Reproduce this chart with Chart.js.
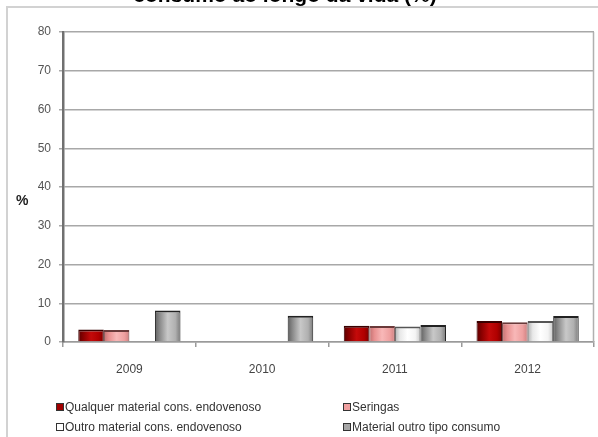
<!DOCTYPE html>
<html>
<head>
<meta charset="utf-8">
<script src="https://cdn.jsdelivr.net/npm/chart.js@4/dist/chart.umd.min.js"></script>
<style>
  html, body { margin: 0; padding: 0; background: #fff; overflow: hidden; }
  #wrap { position: relative; width: 598px; height: 437px; font-family: "Liberation Sans", Arial, sans-serif; }
  #frame { position: absolute; left: 6px; top: 6px; width: 640px; height: 480px; border-left: 2px solid #d2d2d2; border-top: 2px solid #d2d2d2; }
  #title { position: absolute; left: 0; width: 570px; top: -16px; text-align: center; font-size: 21px; line-height: 21px; font-weight: bold; color: #000; white-space: nowrap; }
  #ylab { position: absolute; left: 16px; top: 192px; font-size: 14px; font-weight: bold; color: #222; }
  canvas { position: absolute; left: 0; top: 0; }
  .leg { position: absolute; font-size: 12px; color: #333; white-space: nowrap; line-height: 14px; }
  .leg i { display: inline-block; width: 6px; height: 6px; border: 1px solid #333; margin-right: 1px; vertical-align: 0px; }
</style>
</head>
<body>
<div id="wrap">
  <div id="frame"></div>
  <canvas id="c" width="598" height="437"></canvas>
  <div id="title">consumo ao longo da vida (%)</div>
  <div id="ylab">%</div>
  <div id="legend"></div>
</div>
<script>
const categories = ["2009", "2010", "2011", "2012"];
const seriesNames = ["Qualquer material cons. endovenoso", "Seringas", "Outro material cons. endovenoso", "Material outro tipo consumo"];
const qualquerMaterial = [3.2, null, 4.2, 5.4];
const seringas = [3.1, null, 4.1, 5.1];
const outroMaterial = [null, null, 4.0, 5.4];
const materialOutroTipo = [8.1, 6.8, 4.4, 6.7];
const yTicks = [0, 10, 20, 30, 40, 50, 60, 70, 80];

const seriesValues = [qualquerMaterial, seringas, outroMaterial, materialOutroTipo];
const baseColors = ["#a00000", "#f0a0a0", "#ffffff", "#a6a6a6"];
const gradStops = [
  ["#5a0000", "#8a0000", "#c40a0a", "#b00000", "#7a0000"],
  ["#c07070", "#e89090", "#f8b8b8", "#eea0a0", "#d08080"],
  ["#b0b0b0", "#e8e8e8", "#ffffff", "#f4f4f4", "#c8c8c8"],
  ["#606060", "#8c8c8c", "#c8c8c8", "#b0b0b0", "#7a7a7a"]
];
const borderCols = ["#3a0000", "#6a3a3a", "#555555", "#222222"];

const gradientPlugin = {
  id: "grad",
  beforeDatasetsDraw(chart) {
    const ctx = chart.ctx;
    chart.data.datasets.forEach((ds, di) => {
      const meta = chart.getDatasetMeta(di);
      meta.data.forEach(el => {
        if (!isFinite(el.x) || !isFinite(el.width) || !el.options) return;
        const x0 = el.x - el.width / 2, x1 = el.x + el.width / 2;
        const g = ctx.createLinearGradient(x0, 0, x1, 0);
        const s = gradStops[di];
        g.addColorStop(0, s[0]);
        g.addColorStop(0.2, s[1]);
        g.addColorStop(0.5, s[2]);
        g.addColorStop(0.8, s[3]);
        g.addColorStop(1, s[4]);
        el.options.backgroundColor = g;
      });
    });
  },
  afterDraw(chart) {
    const a = chart.chartArea, ctx = chart.ctx;
    ctx.save();
    ctx.strokeStyle = "#b0b0b0";
    ctx.lineWidth = 1.5;
    ctx.beginPath();
    ctx.moveTo(Math.round(a.right) - 0.5, a.top);
    ctx.lineTo(Math.round(a.right) - 0.5, a.bottom);
    ctx.stroke();
    ctx.restore();
  }
};

const chart = new Chart(document.getElementById("c"), {
  type: "bar",
  data: {
    labels: categories,
    datasets: seriesNames.map((n, i) => ({
      label: n,
      data: seriesValues[i],
      backgroundColor: (c) => baseColors[i],
      borderColor: borderCols[i],
      borderWidth: { top: 2, left: 1, right: 1, bottom: 0 },
      borderSkipped: "bottom",
      categoryPercentage: 0.77,
      barPercentage: 1.0
    }))
  },
  options: {
    responsive: false,
    devicePixelRatio: 1,
    animation: false,
    events: [],
    layout: { padding: { left: 0, right: 4, top: 32, bottom: 55 } },
    plugins: { legend: { display: false }, tooltip: { enabled: false }, title: { display: false } },
    scales: {
      x: {
        grid: { drawOnChartArea: false, tickLength: 5, color: "#9a9a9a", lineWidth: 1.5, offset: true },
        border: { color: "#9a9a9a", width: 1.5 },
        ticks: { color: "#444", font: { family: "Liberation Sans", size: 12 }, padding: 15 },
        afterFit(s) { s.height = 40; }
      },
      y: {
        min: 0, max: 80,
        afterBuildTicks(s) { s.ticks = yTicks.map(v => ({ value: v })); },
        grid: { color: "#a8a8a8", lineWidth: 1.5, tickLength: 4 },
        border: { color: "#707070", width: 2.5 },
        ticks: { color: "#555", font: { family: "Liberation Sans", size: 12 }, padding: 8 },
        afterFit(s) { s.width = 63; }
      }
    }
  },
  plugins: [gradientPlugin]
});

// HTML legend built from datasets (2 x 2 grid)
const legendPos = [[56, 400], [343, 400], [56, 420], [343, 420]];
const legEl = document.getElementById("legend");
seriesNames.forEach((n, i) => {
  const d = document.createElement("div");
  d.className = "leg";
  d.style.left = legendPos[i][0] + "px";
  d.style.top = legendPos[i][1] + "px";
  const sw = document.createElement("i");
  sw.style.background = baseColors[i];
  d.appendChild(sw);
  d.appendChild(document.createTextNode(n));
  legEl.appendChild(d);
});
</script>
</body>
</html>
